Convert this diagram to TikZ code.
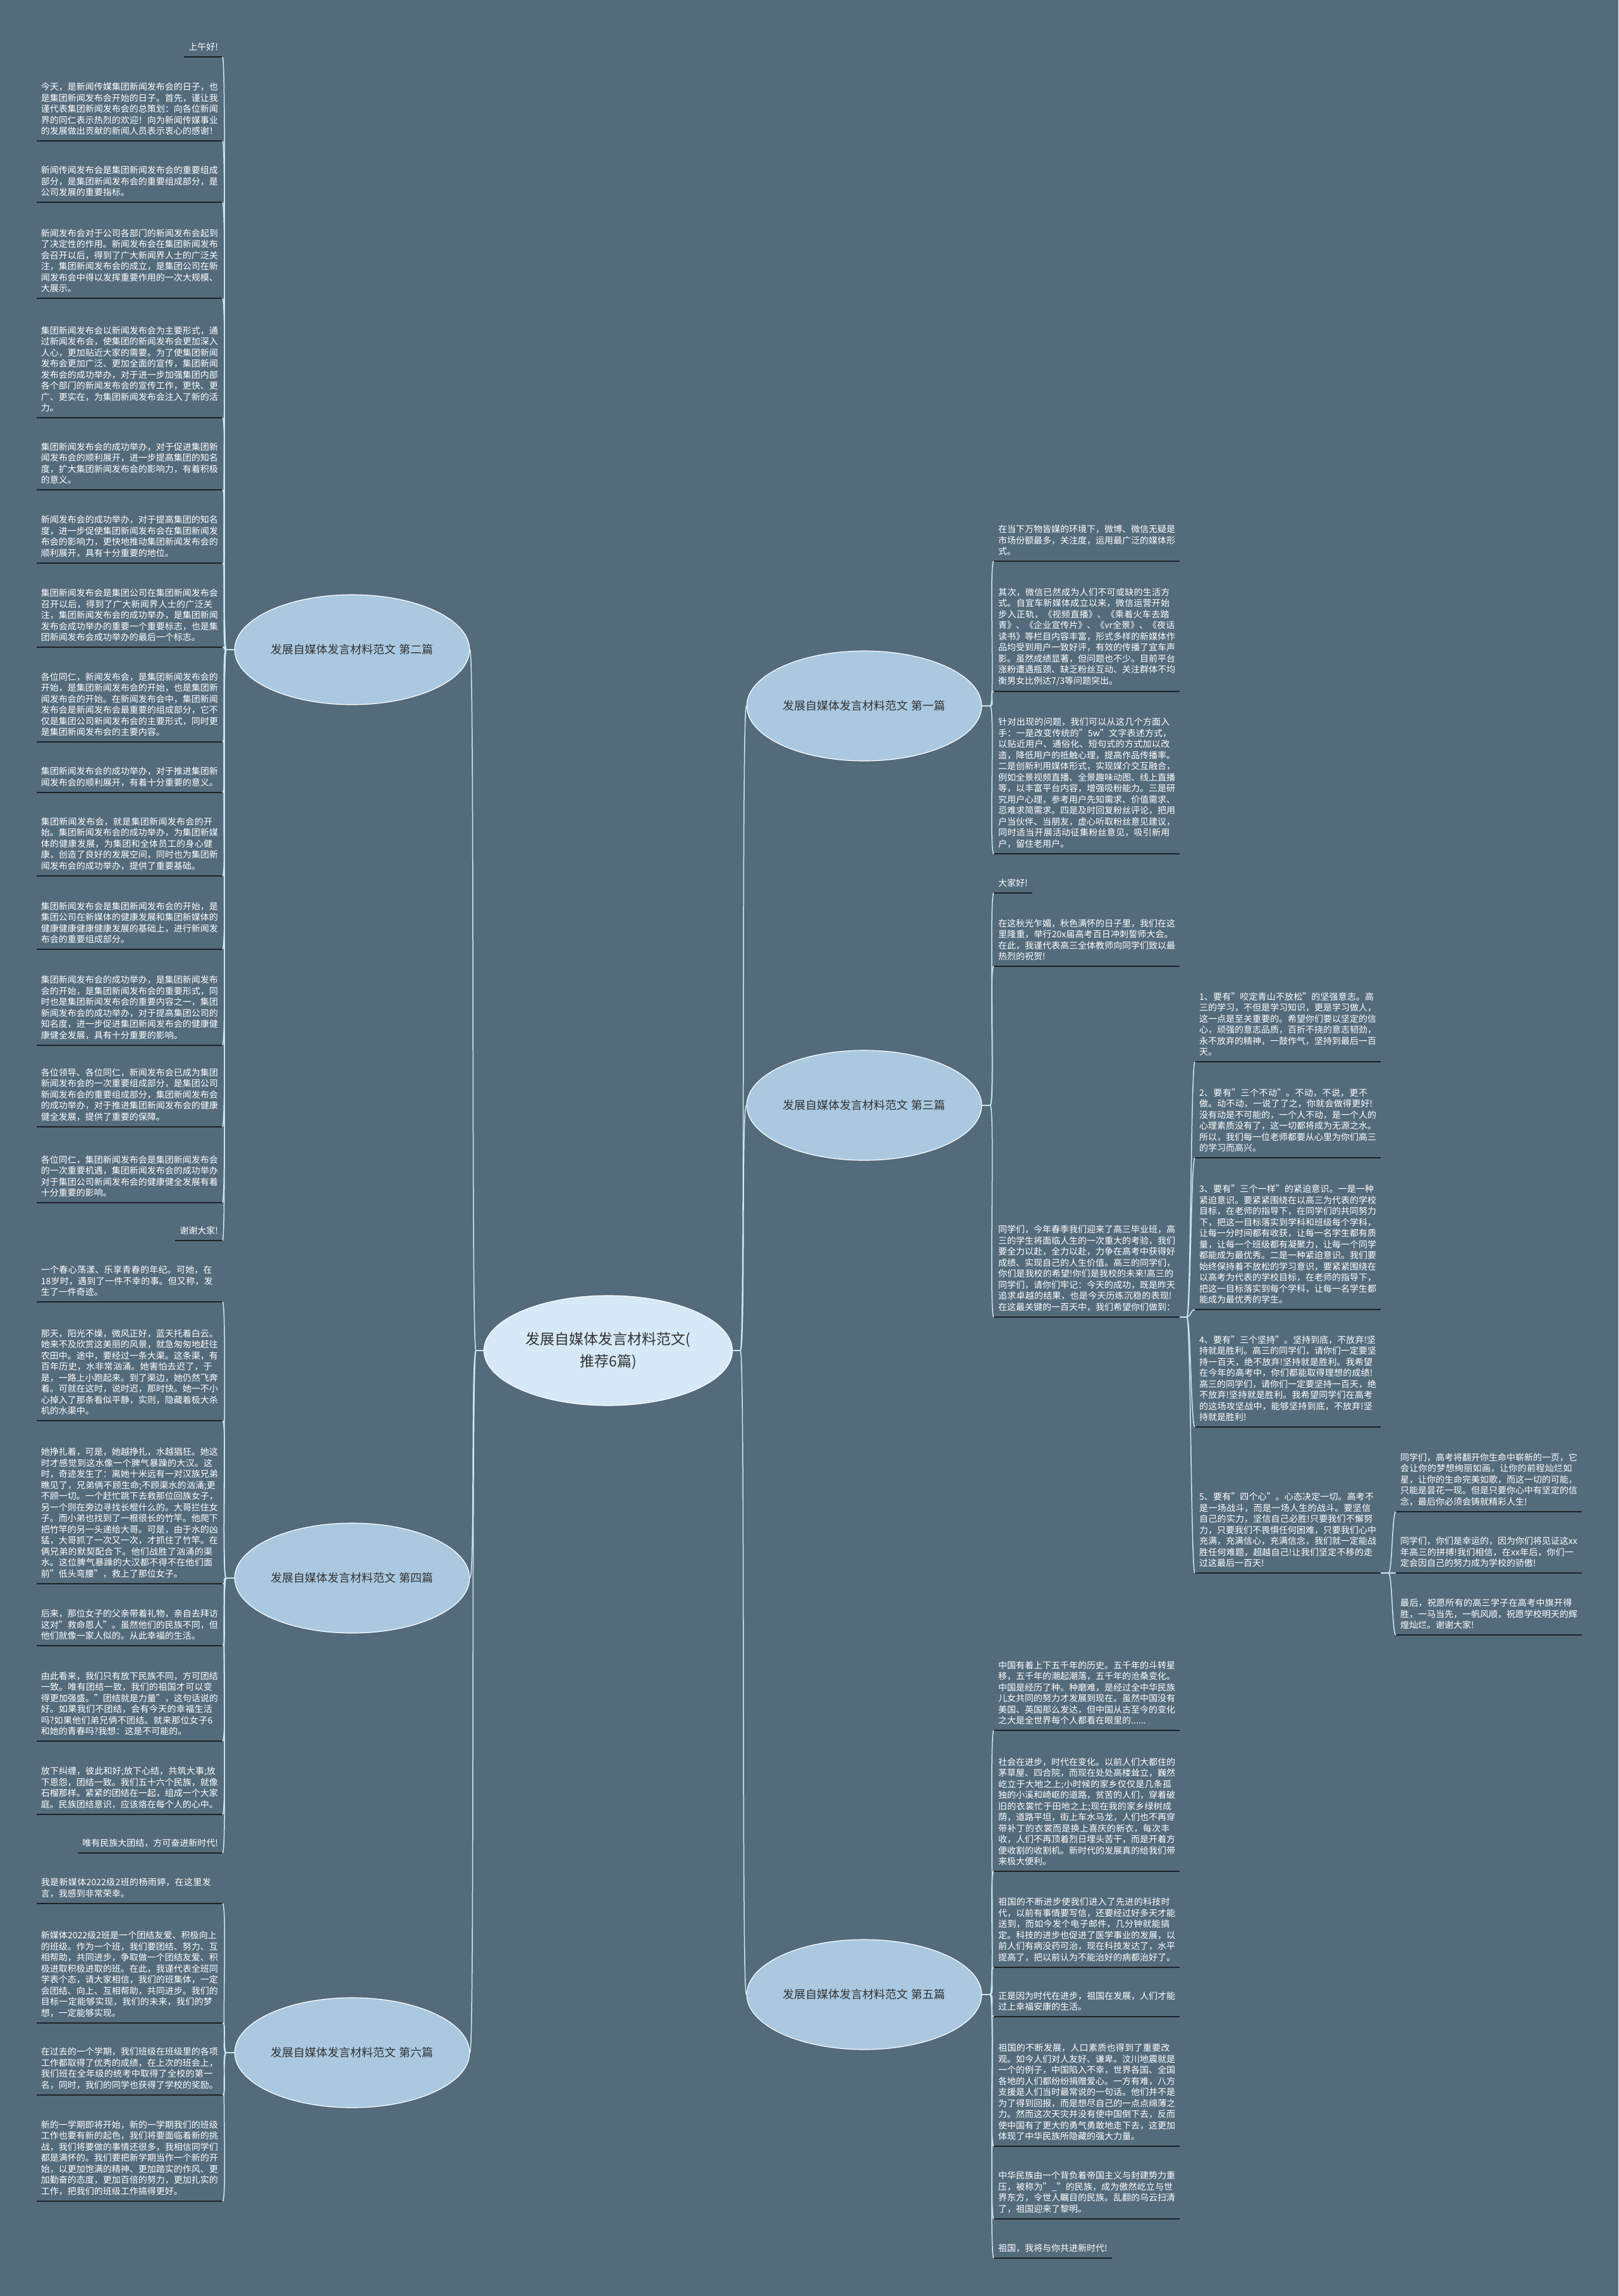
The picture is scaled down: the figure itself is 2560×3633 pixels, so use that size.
\documentclass[tikz,border=0pt]{standalone}
\usepackage{fontspec}
\setmainfont{Noto Sans CJK SC}
\XeTeXlinebreaklocale "zh"
\XeTeXlinebreakskip=0pt plus 1pt
\usepackage{xcolor}
\usetikzlibrary{calc, shapes.geometric, positioning}

\definecolor{bgslate}{HTML}{546B7C}
\definecolor{linkblue}{HTML}{CFE6F3}
\definecolor{topicfill}{HTML}{AAC9E1}
\definecolor{rootfill}{HTML}{D5E9F7}
\definecolor{lineblack}{HTML}{1C2227}

\tikzset{
  root/.style={ellipse, draw=white, line width=1.2pt, fill=rootfill, minimum width=393pt, minimum height=174pt,
    align=center, text=black!80, font=\fontsize{23}{35}\selectfont},
  topic/.style={ellipse, draw=white, line width=1.2pt, fill=topicfill, minimum width=360pt, minimum height=174pt,
    text=black!80, font=\fontsize{18}{22}\selectfont},
  leafbase/.style={inner xsep=7pt, inner ysep=9pt, text=white, font=\fontsize{14}{17.5}\selectfont,
    append after command={(\tikzlastnode.south west) edge[draw=lineblack, line width=2.5pt] (\tikzlastnode.south east)}},
  leaf/.style={leafbase, text width=280pt, align=left},
  link/.style={draw=linkblue, line width=1.5pt}
}

\begin{document}
\begin{tikzpicture}[x=1pt, y=-1pt, >=stealth]
    \path[use as bounding box, fill=bgslate] (0,0) rectangle (2560,3633);

    \node[root] (root) at (962,2137) {发展自媒体发言材料范文(\\推荐6篇)};
    \node[topic] (b2) at (557,1028) {发展自媒体发言材料范文 第二篇};
    \node[topic] (b4) at (557,2497) {发展自媒体发言材料范文 第四篇};
    \node[topic] (b6) at (557,3248) {发展自媒体发言材料范文 第六篇};
    \node[topic] (b1) at (1367,1117) {发展自媒体发言材料范文 第一篇};
    \node[topic] (b3) at (1367,1749) {发展自媒体发言材料范文 第三篇};
    \node[topic] (b5) at (1367,3156) {发展自媒体发言材料范文 第五篇};

    \node[leafbase, anchor=south east] (l21) at (352,90) {上午好!};
    \node[leaf, anchor=south east] (l22) at (352,223) {今天，是新闻传媒集团新闻发布会的日子，也是集团新闻发布会开始的日子。首先，谨让我谨代表集团新闻发布会的总策划：向各位新闻界的同仁表示热烈的欢迎！向为新闻传媒事业的发展做出贡献的新闻人员表示衷心的感谢！};
    \node[leaf, anchor=south east] (l23) at (352,320) {新闻传闻发布会是集团新闻发布会的重要组成部分，是集团新闻发布会的重要组成部分，是公司发展的重要指标。};
    \node[leaf, anchor=south east] (l24) at (352,472) {新闻发布会对于公司各部门的新闻发布会起到了决定性的作用。新闻发布会在集团新闻发布会召开以后，得到了广大新闻界人士的广泛关注，集团新闻发布会的成立，是集团公司在新闻发布会中得以发挥重要作用的一次大规模、大展示。};
    \node[leaf, anchor=south east] (l25) at (352,661) {集团新闻发布会以新闻发布会为主要形式，通过新闻发布会，使集团的新闻发布会更加深入人心，更加贴近大家的需要。为了使集团新闻发布会更加广泛、更加全面的宣传，集团新闻发布会的成功举办，对于进一步加强集团内部各个部门的新闻发布会的宣传工作，更快、更广、更实在，为集团新闻发布会注入了新的活力。};
    \node[leaf, anchor=south east] (l26) at (352,775) {集团新闻发布会的成功举办，对于促进集团新闻发布会的顺利展开，进一步提高集团的知名度，扩大集团新闻发布会的影响力，有着积极的意义。};
    \node[leaf, anchor=south east] (l27) at (352,891) {新闻发布会的成功举办，对于提高集团的知名度，进一步促使集团新闻发布会在集团新闻发布会的影响力，更快地推动集团新闻发布会的顺利展开，具有十分重要的地位。};
    \node[leaf, anchor=south east] (l28) at (352,1024) {集团新闻发布会是集团公司在集团新闻发布会召开以后，得到了广大新闻界人士的广泛关注，集团新闻发布会的成功举办，是集团新闻发布会成功举办的重要一个重要标志，也是集团新闻发布会成功举办的最后一个标志。};
    \node[leaf, anchor=south east] (l29) at (352,1174) {各位同仁，新闻发布会，是集团新闻发布会的开始，是集团新闻发布会的开始，也是集团新闻发布会的开始。在新闻发布会中，集团新闻发布会是新闻发布会最重要的组成部分，它不仅是集团公司新闻发布会的主要形式，同时更是集团新闻发布会的主要内容。};
    \node[leaf, anchor=south east] (l210) at (352,1254) {集团新闻发布会的成功举办，对于推进集团新闻发布会的顺利展开，有着十分重要的意义。};
    \node[leaf, anchor=south east] (l211) at (352,1386) {集团新闻发布会，就是集团新闻发布会的开始。集团新闻发布会的成功举办，为集团新媒体的健康发展，为集团和全体员工的身心健康，创造了良好的发展空间，同时也为集团新闻发布会的成功举办，提供了重要基础。};
    \node[leaf, anchor=south east] (l212) at (352,1502) {集团新闻发布会是集团新闻发布会的开始，是集团公司在新媒体的健康发展和集团新媒体的健康健康健康健康发展的基础上，进行新闻发布会的重要组成部分。};
    \node[leaf, anchor=south east] (l213) at (352,1654) {集团新闻发布会的成功举办，是集团新闻发布会的开始，是集团新闻发布会的重要形式，同时也是集团新闻发布会的重要内容之一，集团新闻发布会的成功举办，对于提高集团公司的知名度，进一步促进集团新闻发布会的健康健康健全发展，具有十分重要的影响。};
    \node[leaf, anchor=south east] (l214) at (352,1783) {各位领导、各位同仁，新闻发布会已成为集团新闻发布会的一次重要组成部分，是集团公司新闻发布会的重要组成部分，集团新闻发布会的成功举办，对于推进集团新闻发布会的健康健全发展，提供了重要的保障。};
    \node[leaf, anchor=south east] (l215) at (352,1903) {各位同仁，集团新闻发布会是集团新闻发布会的一次重要机遇，集团新闻发布会的成功举办对于集团公司新闻发布会的健康健全发展有着十分重要的影响。};
    \node[leafbase, anchor=south east] (l216) at (352,1963) {谢谢大家!};

    \node[leaf, anchor=south east] (l41) at (352,2060) {一个春心荡漾、乐享青春的年纪。可她，在18岁时，遇到了一件不幸的事。但又称，发生了一件奇迹。};
    \node[leaf, anchor=south east] (l42) at (352,2248) {那天，阳光不燥，微风正好，蓝天托着白云。她来不及欣赏这美丽的风景，就急匆匆地赶往农田中。途中，要经过一条大渠。这条渠，有百年历史，水非常汹涌。她害怕去迟了，于是，一路上小跑起来。到了渠边，她仍然飞奔着。可就在这时，说时迟，那时快。她一不小心掉入了那条看似平静，实则，隐藏着极大杀机的水渠中。};
    \node[leaf, anchor=south east] (l43) at (352,2506) {她挣扎着，可是，她越挣扎，水越猖狂。她这时才感觉到这水像一个脾气暴躁的大汉。这时，奇迹发生了：离她十米远有一对汉族兄弟瞧见了，兄弟俩不顾生命;不顾渠水的汹涌;更不顾一切。一个赶忙跳下去救那位回族女子，另一个则在旁边寻找长棍什么的。大哥拦住女子。而小弟也找到了一根很长的竹竿。他爬下把竹竿的另一头递给大哥。可是，由于水的凶猛，大哥抓了一次又一次，才抓住了竹竿。在俩兄弟的默契配合下。他们战胜了汹涌的渠水。这位脾气暴躁的大汉都不得不在他们面前"低头弯腰"，救上了那位女子。};
    \node[leaf, anchor=south east] (l44) at (352,2604) {后来，那位女子的父亲带着礼物，亲自去拜访这对"救命恩人"。虽然他们的民族不同，但他们就像一家人似的。从此幸福的生活。};
    \node[leaf, anchor=south east] (l45) at (352,2755) {由此看来，我们只有放下民族不同，方可团结一致。唯有团结一致，我们的祖国才可以变得更加强盛。"团结就是力量"，这句话说的好。如果我们不团结，会有今天的幸福生活吗?如果他们弟兄俩不团结。就来那位女子6和她的青春吗?我想：这是不可能的。};
    \node[leaf, anchor=south east] (l46) at (352,2871) {放下纠缠，彼此和好;放下心结，共筑大事;放下恩怨，团结一致。我们五十六个民族，就像石榴那样。紧紧的团结在一起，组成一个大家庭。民族团结意识，应该烙在每个人的心中。};
    \node[leafbase, anchor=south east] (l47) at (352,2932) {唯有民族大团结，方可奋进新时代!};

    \node[leaf, anchor=south east] (l61) at (352,3012) {我是新媒体2022级2班的杨雨婷，在这里发言，我感到非常荣幸。};
    \node[leaf, anchor=south east] (l62) at (352,3201) {新媒体2022级2班是一个团结友爱、积极向上的班级。作为一个班，我们要团结、努力、互相帮助，共同进步，争取做一个团结友爱、积极进取积极进取的班。在此，我谨代表全班同学表个态，请大家相信，我们的班集体，一定会团结、向上、互相帮助，共同进步。我们的目标一定能够实现，我们的未来，我们的梦想，一定能够实现。};
    \node[leaf, anchor=south east] (l63) at (352,3315) {在过去的一个学期，我们班级在班级里的各项工作都取得了优秀的成绩，在上次的班会上，我们班在全年级的统考中取得了全校的第一名，同时，我们的同学也获得了学校的奖励。};
    \node[leaf, anchor=south east] (l64) at (352,3483) {新的一学期即将开始，新的一学期我们的班级工作也要有新的起色，我们将要面临着新的挑战，我们将要做的事情还很多，我相信同学们都是满怀的。我们要把新学期当作一个新的开始，以更加饱满的精神、更加踏实的作风、更加勤奋的态度，更加百倍的努力，更加扎实的工作，把我们的班级工作搞得更好。};

    \node[leaf, anchor=south west] (r11) at (1572,888) {在当下万物皆媒的环境下，微博、微信无疑是市场份额最多，关注度，运用最广泛的媒体形式。};
    \node[leaf, anchor=south west] (r12) at (1572,1094) {其次，微信已然成为人们不可或缺的生活方式。自宜车新媒体成立以来，微信运营开始步入正轨，《视频直播》、《乘着火车去踏青》、《企业宣传片》、《vr全景》、《夜话读书》等栏目内容丰富，形式多样的新媒体作品均受到用户一致好评，有效的传播了宜车声影。虽然成绩显著，但问题也不少。目前平台涨粉遭遇瓶颈、缺乏粉丝互动、关注群体不均衡男女比例达7/3等问题突出。};
    \node[leaf, anchor=south west] (r13) at (1572,1351) {针对出现的问题，我们可以从这几个方面入手：一是改变传统的"5w"文字表述方式，以贴近用户、通俗化、短句式的方式加以改造，降低用户的抵触心理，提高作品传播率。二是创新利用媒体形式，实现媒介交互融合，例如全景视频直播、全景趣味动图、线上直播等，以丰富平台内容，增强吸粉能力。三是研究用户心理，参考用户先知需求、价值需求、忌难求简需求。四是及时回复粉丝评论，把用户当伙伴、当朋友，虚心听取粉丝意见建议，同时适当开展活动征集粉丝意见，吸引新用户，留住老用户。};

    \node[leafbase, anchor=south west] (r31) at (1572,1413) {大家好!};
    \node[leaf, anchor=south west] (r32) at (1572,1529) {在这秋光乍媚，秋色满怀的日子里，我们在这里隆重，举行20x届高考百日冲刺誓师大会。在此，我谨代表高三全体教师向同学们致以最热烈的祝贺!};
    \node[leaf, anchor=south west] (r33) at (1572,2084) {同学们，今年春季我们迎来了高三毕业班，高三的学生将面临人生的一次重大的考验，我们要全力以赴，全力以赴，力争在高考中获得好成绩、实现自己的人生价值。高三的同学们，你们是我校的希望!你们是我校的未来!高三的同学们，请你们牢记：今天的成功，既是昨天追求卓越的结果，也是今天历练沉稳的表现!在这最关键的一百天中，我们希望你们做到：};
    \node[leaf, anchor=south west] (s1) at (1890,1680) {1、要有"咬定青山不放松"的坚强意志。高三的学习，不但是学习知识，更是学习做人，这一点是至关重要的。希望你们要以坚定的信心，顽强的意志品质，百折不挠的意志韧劲，永不放弃的精神，一鼓作气，坚持到最后一百天。};
    \node[leaf, anchor=south west] (s2) at (1890,1832) {2、要有"三个不动"。不动，不说，更不做。动不动，一说了了之，你就会做得更好!没有动是不可能的，一个人不动，是一个人的心理素质没有了，这一切都将成为无源之水。所以，我们每一位老师都要从心里为你们高三的学习而高兴。};
    \node[leaf, anchor=south west] (s3) at (1890,2072) {3、要有"三个一样"的紧迫意识。一是一种紧迫意识。要紧紧围绕在以高三为代表的学校目标，在老师的指导下，在同学们的共同努力下，把这一目标落实到学科和班级每个学科，让每一分时间都有收获，让每一名学生都有质量，让每一个班级都有凝聚力，让每一个同学都能成为最优秀。二是一种紧迫意识。我们要始终保持着不放松的学习意识，要紧紧围绕在以高考为代表的学校目标，在老师的指导下，把这一目标落实到每个学科，让每一名学生都能成为最优秀的学生。};
    \node[leaf, anchor=south west] (s4) at (1890,2258) {4、要有"三个坚持"。坚持到底，不放弃!坚持就是胜利。高三的同学们，请你们一定要坚持一百天，绝不放弃!坚持就是胜利。我希望在今年的高考中，你们都能取得理想的成绩!高三的同学们，请你们一定要坚持一百天，绝不放弃!坚持就是胜利。我希望同学们在高考的这场攻坚战中，能够坚持到底，不放弃!坚持就是胜利!};
    \node[leaf, anchor=south west] (s5) at (1890,2489) {5、要有"四个心"。心态决定一切。高考不是一场战斗，而是一场人生的战斗。要坚信自己的实力，坚信自己必胜!只要我们不懈努力，只要我们不畏惧任何困难，只要我们心中充满，充满信心，充满信念，我们就一定能战胜任何难题，超越自己!让我们坚定不移的走过这最后一百天!};
    \node[leaf, anchor=south west] (t1) at (2208,2392) {同学们，高考将翻开你生命中崭新的一页，它会让你的梦想绚丽如画，让你的前程灿烂如星，让你的生命完美如歌，而这一切的可能，只能是昙花一现。但是只要你心中有坚定的信念，最后你必须会铸就精彩人生!};
    \node[leaf, anchor=south west] (t2) at (2208,2489) {同学们，你们是幸运的，因为你们将见证这xx年高三的拼搏!我们相信，在xx年后，你们一定会因自己的努力成为学校的骄傲!};
    \node[leaf, anchor=south west] (t3) at (2208,2587) {最后，祝愿所有的高三学子在高考中旗开得胜，一马当先，一帆风顺，祝愿学校明天的辉煌灿烂。谢谢大家!};

    \node[leaf, anchor=south west] (r51) at (1572,2738) {中国有着上下五千年的历史。五千年的斗转星移，五千年的潮起潮落，五千年的沧桑变化。中国是经历了种。种磨难，是经过全中华民族儿女共同的努力才发展到现在。虽然中国没有美国、英国那么发达，但中国从古至今的变化之大是全世界每个人都看在眼里的......};
    \node[leaf, anchor=south west] (r52) at (1572,2961) {社会在进步，时代在变化。以前人们大都住的茅草屋、四合院，而现在处处高楼耸立，巍然屹立于大地之上;小时候的家乡仅仅是几条孤独的小溪和崎岖的道路，贫苦的人们，穿着破旧的衣裳忙于田地之上;现在我的家乡绿树成荫，道路平坦，街上车水马龙，人们也不再穿带补丁的衣裳而是换上喜庆的新衣，每次丰收，人们不再顶着烈日埋头苦干，而是开着方便收割的收割机。新时代的发展真的给我们带来极大便利。};
    \node[leaf, anchor=south west] (r53) at (1572,3113) {祖国的不断进步使我们进入了先进的科技时代，以前有事情要写信，还要经过好多天才能送到，而如今发个电子邮件，几分钟就能搞定。科技的进步也促进了医学事业的发展，以前人们有病没药可治，现在科技发达了，水平提高了，把以前认为不能治好的病都治好了。};
    \node[leaf, anchor=south west] (r54) at (1572,3191) {正是因为时代在进步，祖国在发展，人们才能过上幸福安康的生活。};
    \node[leaf, anchor=south west] (r55) at (1572,3396) {祖国的不断发展，人口素质也得到了重要改观。如今人们对人友好、谦卑。汶川地震就是一个的例子，中国陷入不幸，世界各国、全国各地的人们都纷纷捐赠爱心。一方有难，八方支援是人们当时最常说的一句话。他们并不是为了得到回报，而是想尽自己的一点点绵薄之力。然而这次天灾并没有使中国倒下去，反而使中国有了更大的勇气勇敢地走下去，这更加体现了中华民族所隐藏的强大力量。};
    \node[leaf, anchor=south west] (r56) at (1572,3511) {中华民族由一个背负着帝国主义与封建势力重压，被称为"\_"的民族，成为傲然屹立与世界东方，令世人瞩目的民族。乱翻的乌云扫清了，祖国迎来了黎明。};
    \node[leafbase, anchor=south west] (r57) at (1572,3573) {祖国，我将与你共进新时代!};

    \foreach \b in {b2,b4,b6}
        \draw[link] (root.west) -- ++(-12,0) .. controls +(-8,0) and +(8,0) .. (\b.east);
    \foreach \b in {b1,b3,b5}
        \draw[link] (root.east) -- ++(12,0) .. controls +(8,0) and +(-8,0) .. (\b.west);

    \foreach \t in {l21,l22,l23,l24,l25,l26,l27,l28,l29,l210,l211,l212,l213,l214,l215,l216}
        \draw[link] (b2.west) -- ++(-13,0) .. controls +(-8,0) and +(8,0) .. (\t.south east);
    \foreach \t in {l41,l42,l43,l44,l45,l46,l47}
        \draw[link] (b4.west) -- ++(-13,0) .. controls +(-8,0) and +(8,0) .. (\t.south east);
    \foreach \t in {l61,l62,l63,l64}
        \draw[link] (b6.west) -- ++(-13,0) .. controls +(-8,0) and +(8,0) .. (\t.south east);

    \foreach \t in {r11,r12,r13}
        \draw[link] (b1.east) -- ++(13,0) .. controls +(8,0) and +(-8,0) .. (\t.south west);
    \foreach \t in {r31,r32,r33}
        \draw[link] (b3.east) -- ++(13,0) .. controls +(8,0) and +(-8,0) .. (\t.south west);
    \foreach \t in {r51,r52,r53,r54,r55,r56,r57}
        \draw[link] (b5.east) -- ++(13,0) .. controls +(8,0) and +(-8,0) .. (\t.south west);

    \foreach \t in {s1,s2,s3,s4,s5}
        \draw[link] (r33.south east) -- ++(11,0) .. controls +(6,0) and +(-6,0) .. (\t.south west);
    \foreach \t in {t1,t2,t3}
        \draw[link] (s5.south east) -- ++(12,0) .. controls +(6,0) and +(-6,0) .. (\t.south west);
\end{tikzpicture}
\end{document}
